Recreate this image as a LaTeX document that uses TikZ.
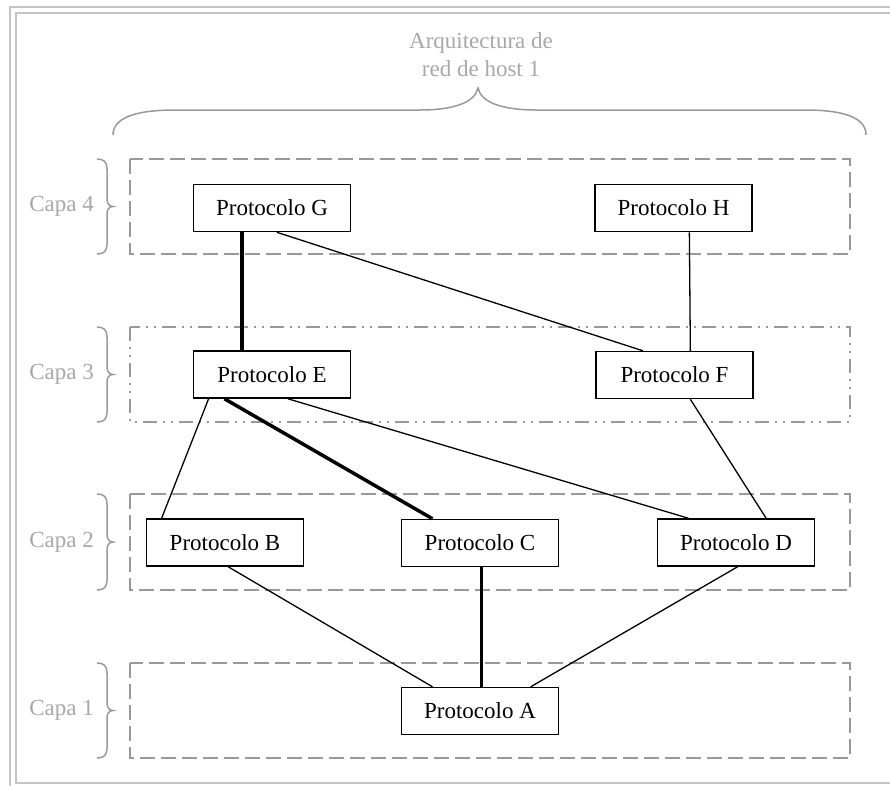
\documentclass[tikz,border=0pt]{standalone}
\usepackage{fontspec}
\setmainfont{Liberation Serif}
\usetikzlibrary{calc}
\definecolor{framegray}{HTML}{C4C4C4}
\definecolor{layergray}{HTML}{999999}
\definecolor{labelgray}{HTML}{A8A8A8}
\tikzset{
  proto/.style={draw=black, line width=1.5pt, fill=white, minimum width=157pt, minimum height=47pt, inner sep=0pt, font=\fontsize{23}{28}\selectfont},
  layerbox/.style={draw=layergray, line width=1.5pt, dash pattern=on 15pt off 6pt},
  layerdd/.style={draw=layergray, line width=1.5pt, dash pattern=on 14pt off 6pt on 2pt off 6pt on 2pt off 6pt},
  bracestyle/.style={draw=layergray, line width=1.5pt},
  lbl/.style={text=labelgray, font=\fontsize{23}{28}\selectfont, inner sep=0pt},
  conn/.style={draw=black, line width=1.3pt},
  mainconn/.style={draw=black, line width=3.5pt},
  framestyle/.style={draw=framegray, line width=1.8pt}
}
\begin{document}
\begin{tikzpicture}[x=1pt,y=-1pt]
\useasboundingbox (0,0) rectangle (890,785);
\clip (0,0) rectangle (890,785);
\fill[white] (0,0) rectangle (890,785);
% frame (double line, cut at right and bottom)
\draw[framestyle] (10,7) rectangle (905,800);
\draw[framestyle] (16,13) rectangle (899,783);

% title and top brace
\node[lbl, align=center] (title) at (481,55) {Arquitectura de\\red de host 1};
\draw[bracestyle] (113,135) .. controls (113,118) and (135,110) .. (175,110) -- (420,110)
  .. controls (455,110) and (475,102) .. (478,88)
  .. controls (481,102) and (501,110) .. (536,110) -- (805,110)
  .. controls (845,110) and (866,118) .. (866,135);

% layer boxes
\draw[layerbox] (130,159) rectangle (850,254);
\draw[layerdd]  (130,327) rectangle (850,422);
\draw[layerbox] (130,494) rectangle (850,590);
\draw[layerbox] (130,663) rectangle (850,758);

% left braces and labels
\foreach \yo/\yi/\n in {159/254/4, 327/422/3, 494/590/2, 663/758/1}{
  \pgfmathsetmacro{\ym}{(\yo+\yi)/2}
  \draw[bracestyle] (97,\yo) .. controls (104,\yo) and (107,\yo+3) .. (107,\yo+10)
    -- (107,\ym-8) .. controls (107,\ym-3) and (109,\ym) .. (113,\ym)
    .. controls (109,\ym) and (107,\ym+3) .. (107,\ym+8)
    -- (107,\yi-10) .. controls (107,\yi-3) and (104,\yi) .. (97,\yi);
  \node[lbl, anchor=east] (capa\n) at (94,\ym) {Capa \n};
}

% protocol nodes
\node[proto] (G) at (272,208) {Protocolo G};
\node[proto] (H) at (673.5,208) {Protocolo H};
\node[proto] (E) at (272,374.5) {Protocolo E};
\node[proto] (F) at (674.5,375) {Protocolo F};
\node[proto] (B) at (225,542.5) {Protocolo B};
\node[proto] (C) at (480,543) {Protocolo C};
\node[proto] (D) at (736,542.5) {Protocolo D};
\node[proto] (A) at (480,711) {Protocolo A};

% connectors
\draw[mainconn] ($(G.south west)!0.31!(G.south east)$) -- ($(E.north west)!0.31!(E.north east)$);
\draw[conn] ($(G.south west)!0.53!(G.south east)$) -- ($(F.north west)!0.3!(F.north east)$);
\draw[conn] ($(H.south west)!0.6!(H.south east)$) -- ($(F.north west)!0.6!(F.north east)$);
\draw[conn] ($(E.south west)!0.1!(E.south east)$) -- ($(B.north west)!0.1!(B.north east)$);
\draw[mainconn] ($(E.south west)!0.2!(E.south east)$) -- ($(C.north west)!0.2!(C.north east)$);
\draw[conn] ($(E.south west)!0.6!(E.south east)$) -- ($(D.north west)!0.2!(D.north east)$);
\draw[conn] ($(F.south west)!0.6!(F.south east)$) -- ($(D.north west)!0.69!(D.north east)$);
\draw[conn] ($(B.south west)!0.52!(B.south east)$) -- ($(A.north west)!0.2!(A.north east)$);
\draw[mainconn] ($(C.south west)!0.51!(C.south east)$) -- ($(A.north west)!0.51!(A.north east)$);
\draw[conn] ($(D.south west)!0.51!(D.south east)$) -- ($(A.north west)!0.82!(A.north east)$);
\end{tikzpicture}
\end{document}
